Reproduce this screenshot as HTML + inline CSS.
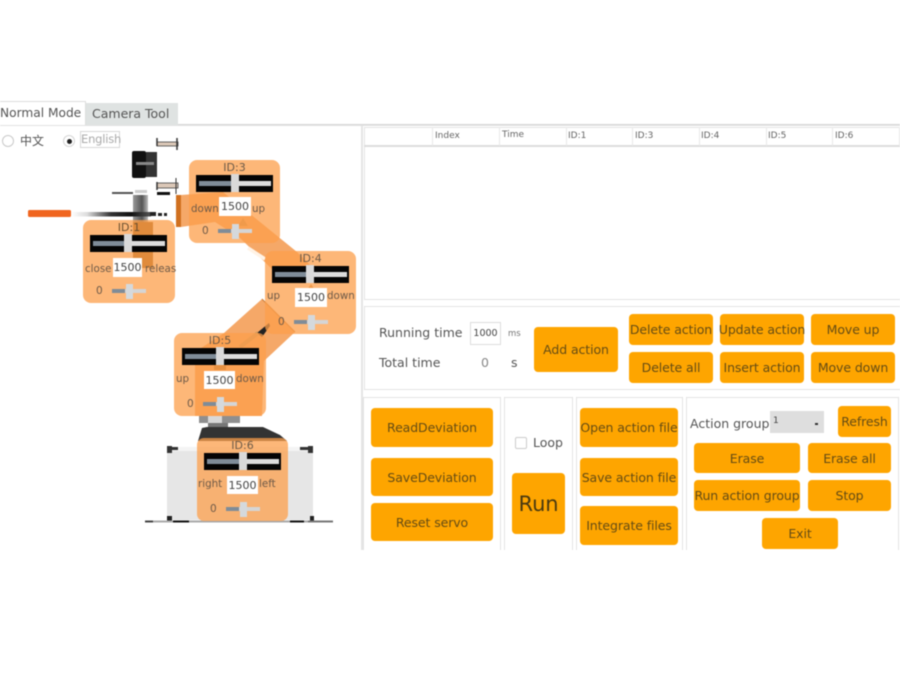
<!DOCTYPE html>
<html><head><meta charset="utf-8"><style>
html,body{margin:0;padding:0;background:#fff}
#p{position:relative;width:900px;height:675px;overflow:hidden;background:#fff;font-family:"DejaVu Sans","Noto Sans CJK SC",sans-serif;filter:blur(.5px)}
#p div,#p span.a{position:absolute;box-sizing:border-box}
.b{background:#fea500;border-radius:4px;color:#654c14;font-size:12.5px;display:flex;align-items:center;justify-content:center;white-space:nowrap;letter-spacing:-.1px}
.t{white-space:nowrap;color:#555;line-height:1}
.h{font-size:9px;color:#666;top:132px;line-height:1;white-space:nowrap}
.s{top:127px;height:19px;width:1px;background:#e9e9e9}
.pn{border:1.5px solid #e3e3e3}
.c{background:rgba(252,159,75,.75);border-radius:8px;width:91px;height:83px}
.c .ti{left:0;width:100%;top:1px;text-align:center;font-size:11px;color:#6b5a48;line-height:13px}
.c .tr{left:7px;top:15px;width:77px;height:17px;background:#050505}
.c .l1{left:3px;top:6px;width:36px;height:5px;background:#7f8c98}
.c .l2{left:39px;top:6px;width:36px;height:5px;background:#dcdcdc}
.c .hd{left:35px;top:-1px;width:8px;height:18px;background:#d9d9d9}
.c .v{left:30px;top:37px;width:32px;height:19px;background:#fff;color:#444;font-size:11px;display:flex;align-items:center;justify-content:center}
.c .lb{font-size:10.3px;color:#6e5a48;top:41px;line-height:1;white-space:nowrap}
.c .z{left:13px;top:66px;font-size:10.5px;color:#6e5a48;line-height:1}
.c .m1{left:29px;top:69px;width:13px;height:4px;background:#7f8c98}
.c .m2{left:42px;top:69px;width:21px;height:4px;background:#d5d5d5}
.c .mh{left:43px;top:64px;width:7px;height:15px;background:#d5d9dc}
</style></head><body><div id="p">

<!-- tabs -->
<div style="left:0;top:101px;width:86px;height:24px;border-top:1px solid #ddd;border-right:1px solid #ddd;background:#fff"></div>
<div class="t" style="left:0;top:107px;font-size:12.2px;color:#555">Normal Mode</div>
<div style="left:86px;top:103px;width:92px;height:22px;background:#dfe3e2"></div>
<div class="t" style="left:92px;top:108px;font-size:12.5px;color:#555">Camera Tool</div>
<div style="left:178px;top:124px;width:722px;height:2px;background:#d6d6d6"></div>
<div style="left:0;top:125px;width:900px;height:1px;background:#e2e2e2"></div>
<div style="left:361px;top:126px;width:2px;height:424px;background:#e5e5e5"></div>

<!-- language -->
<div style="left:2px;top:135px;width:12px;height:12px;border:1px solid #c9c9c9;border-radius:50%"></div>
<div class="t" style="left:20px;top:135px;font-size:12px;color:#555">中文</div>
<div style="left:63px;top:135px;width:12px;height:12px;border:1px solid #d5d5d5;border-radius:50%"></div>
<div style="left:66.5px;top:138.5px;width:5px;height:5px;background:#222;border-radius:50%"></div>
<div class="t" style="left:80px;top:131px;width:40px;height:17px;border:1px solid #d8d8d8;font-size:11.5px;color:#aaa;padding-top:2px;letter-spacing:-.2px">English</div>

<!-- robot -->
<svg style="position:absolute;left:0;top:0" width="900" height="675" viewBox="0 0 900 675">
<defs><linearGradient id="g1" x1="0" x2="1"><stop offset="0" stop-color="#fff"/><stop offset=".2" stop-color="#ddd"/><stop offset=".5" stop-color="#333"/><stop offset=".75" stop-color="#111"/><stop offset="1" stop-color="#555"/></linearGradient>
<linearGradient id="g2" x1="0" x2="1"><stop offset="0" stop-color="#999"/><stop offset=".6" stop-color="#555"/><stop offset="1" stop-color="#bbb"/></linearGradient></defs>
<!-- camera -->
<rect x="132" y="151" width="14" height="27" rx="2" fill="#111"/><rect x="146" y="152" width="11" height="25" fill="#333"/>
<rect x="136" y="162" width="18" height="3" fill="#888"/>
<rect x="157" y="142" width="21" height="4" fill="#dcc8b8" stroke="#444" stroke-width=".8"/>
<rect x="157" y="183" width="21" height="5" fill="#dcc8b8" stroke="#444" stroke-width=".8"/>
<line x1="157" y1="138" x2="157" y2="191" stroke="#333" stroke-width="1.5" stroke-dasharray="8 36"/>
<line x1="177" y1="138" x2="177" y2="150" stroke="#333" stroke-width="1.5"/>
<line x1="176" y1="178" x2="176" y2="194" stroke="#333" stroke-width="1"/>
<!-- gripper -->
<rect x="133" y="195" width="15" height="28" fill="url(#g2)"/>
<rect x="133" y="222" width="20" height="46" fill="#8a4f12"/>
<rect x="112" y="192" width="21" height="2" fill="#555"/><rect x="135" y="190" width="12" height="3" fill="#ccc"/><rect x="157" y="192" width="13" height="3" fill="#111"/>
<rect x="71" y="212" width="80" height="4.5" fill="url(#g1)"/>
<rect x="150" y="212" width="6" height="4" fill="#222"/><rect x="158" y="213" width="4" height="3" fill="#222"/><rect x="164" y="213" width="3" height="3" fill="#222"/>
<rect x="28" y="210" width="43" height="7" rx="1.5" fill="#f0651f"/>
<!-- arm links -->
<rect x="176" y="195" width="5" height="32" fill="#d0701f"/>
<polygon points="181,195 223,192 297,252 315,270 275,272 240,238 215,222 181,227" fill="#f5a868"/>
<line x1="248" y1="248" x2="265" y2="259" stroke="#fff3e6" stroke-width="3.5"/>
<polygon points="238,226 248,226 243,218" fill="#c98a4c"/>
<polygon points="306,292 316,292 311,284" fill="#c98a4c"/>
<polygon points="262,299 295,332 264,361 262,416 195,416 195,352 224,333" fill="#f5a868"/>
<line x1="262" y1="299" x2="295" y2="332" stroke="#c87a36" stroke-width="1"/>
<polygon points="257,333 269,323 270,326 262,337" fill="#222"/>
<line x1="240" y1="347" x2="258" y2="333" stroke="#c9995f" stroke-width="4"/>
<rect x="214" y="365" width="12" height="5" fill="#a8682a"/>
<!-- base -->
<rect x="167" y="449" width="146" height="71" fill="#e6e6e6"/>
<rect x="171" y="447" width="138" height="4" fill="#f4f4f4"/>
<rect x="167" y="447" width="11" height="3" fill="#333"/><rect x="300" y="447" width="13" height="3" fill="#333"/>
<rect x="167" y="446" width="5" height="7" fill="#333"/><rect x="308" y="446" width="5" height="7" fill="#333"/>
<rect x="167" y="516" width="5" height="5" fill="#222"/><rect x="310" y="516" width="4" height="5" fill="#222"/>
<rect x="145" y="520.5" width="188" height="2" fill="#aaa"/><rect x="145" y="520.5" width="8" height="2" fill="#444"/><rect x="173" y="520.5" width="16" height="2" fill="#111"/><rect x="290" y="520.5" width="14" height="2" fill="#111"/><rect x="308" y="520.5" width="25" height="2" fill="#777"/>
<polygon points="198,441 202,428 207,427 263,427 280,435 287,441" fill="#333"/>
<rect x="208" y="422" width="20" height="5" fill="#777"/>
<rect x="199" y="416" width="41" height="7" fill="#8f8f8f"/><rect x="208" y="416" width="14" height="7" fill="#d8d8d8"/>
</svg>

<!-- cards -->
<div class="c" style="left:189px;top:160px"><div class="ti">ID:3</div><div class="tr"><div class="l1"></div><div class="l2"></div><div class="hd" style="left:35px"></div></div><div class="v">1500</div><div class="lb" style="left:2px;top:44px">down</div><div class="lb" style="left:63px;top:44px">up</div><div class="z">0</div><div class="m1"></div><div class="m2"></div><div class="mh"></div></div>

<div class="c" style="left:83px;top:220px;width:92px"><div class="ti" style="color:#6a5030">ID:1</div><div class="tr"><div class="l1"></div><div class="l2"></div><div class="hd" style="left:34px"></div></div><div class="v" style="top:38px;width:29px">1500</div><div class="lb" style="left:2px;top:44px">close</div><div class="lb" style="left:62px;top:44px">releas</div><div class="z">0</div><div class="m1"></div><div class="m2"></div><div class="mh"></div></div>

<div class="c" style="left:265px;top:251px"><div class="ti">ID:4</div><div class="tr"><div class="l1"></div><div class="l2"></div><div class="hd" style="left:34px"></div></div><div class="v">1500</div><div class="lb" style="left:2px;top:40px">up</div><div class="lb" style="left:62px;top:40px">down</div><div class="z">0</div><div class="m1"></div><div class="m2"></div><div class="mh"></div></div>

<div class="c" style="left:174px;top:333px;width:92px"><div class="ti">ID:5</div><div class="tr" style="left:8px"><div class="l1"></div><div class="l2"></div><div class="hd" style="left:34px"></div></div><div class="v" style="top:38px;width:31px;height:18px">1500</div><div class="lb" style="left:2px;top:41px">up</div><div class="lb" style="left:62px;top:41px">down</div><div class="z">0</div><div class="m1"></div><div class="m2"></div><div class="mh"></div></div>

<div class="c" style="left:197px;top:438px;border-radius:7px"><div class="ti">ID:6</div><div class="tr"><div class="l1"></div><div class="l2"></div><div class="hd"></div></div><div class="v" style="top:38px;width:31px;height:18px">1500</div><div class="lb" style="left:1px;top:41px">right</div><div class="lb" style="left:62px;top:41px">left</div><div class="z">0</div><div class="m1"></div><div class="m2"></div><div class="mh"></div></div>

<!-- table -->
<div style="left:364px;top:127px;width:536px;height:173px;border:1px solid #e4e4e4;border-right:0"></div>
<div style="left:364px;top:145px;width:536px;height:2px;background:#dcdcdc"></div>
<div class="s" style="left:432px"></div><div class="s" style="left:499px"></div><div class="s" style="left:566px"></div><div class="s" style="left:632px"></div><div class="s" style="left:699px"></div><div class="s" style="left:766px"></div><div class="s" style="left:832px"></div><div class="s" style="left:899px"></div>
<div class="h" style="left:435px">Index</div><div class="h" style="left:502px;top:131px">Time</div><div class="h" style="left:568px">ID:1</div><div class="h" style="left:635px">ID:3</div><div class="h" style="left:701px">ID:4</div><div class="h" style="left:768px">ID:5</div><div class="h" style="left:835px">ID:6</div>

<!-- middle panel -->
<div class="pn" style="left:364px;top:306px;width:538px;height:84px"></div>
<div class="t" style="left:379px;top:327px;font-size:12.5px">Running time</div>
<div class="t" style="left:470px;top:322px;width:31px;height:23px;border:1px solid #ddd;font-size:9.5px;text-align:center;line-height:22px;color:#444">1000</div>
<div class="t" style="left:508px;top:330px;font-size:8.5px;color:#777">ms</div>
<div class="t" style="left:379px;top:357px;font-size:12.5px">Total time</div>
<div class="t" style="left:481px;top:357px;font-size:12.5px;color:#888">0</div>
<div class="t" style="left:511px;top:357px;font-size:12.5px">s</div>
<div class="b" style="left:534px;top:327px;width:84px;height:45px">Add action</div>
<div class="b" style="left:629px;top:314px;width:84px;height:31px">Delete action</div>
<div class="b" style="left:720px;top:314px;width:84px;height:31px">Update action</div>
<div class="b" style="left:811px;top:314px;width:84px;height:31px">Move up</div>
<div class="b" style="left:629px;top:352px;width:84px;height:31px">Delete all</div>
<div class="b" style="left:720px;top:352px;width:84px;height:31px">Insert action</div>
<div class="b" style="left:811px;top:352px;width:84px;height:31px">Move down</div>

<!-- bottom panels -->
<div class="pn" style="left:363px;top:397px;width:138px;height:170px"></div>
<div class="pn" style="left:504px;top:397px;width:69px;height:170px"></div>
<div class="pn" style="left:576px;top:397px;width:107px;height:170px"></div>
<div class="pn" style="left:686px;top:397px;width:213px;height:170px"></div>
<div class="b" style="left:371px;top:408px;width:122px;height:39px">ReadDeviation</div>
<div class="b" style="left:371px;top:458px;width:122px;height:38px">SaveDeviation</div>
<div class="b" style="left:371px;top:503px;width:122px;height:38px">Reset servo</div>
<div style="left:515px;top:437px;width:12px;height:12px;border:1px solid #ccc;border-radius:2px"></div>
<div class="t" style="left:533px;top:437px;font-size:12.5px">Loop</div>
<div class="b" style="left:512px;top:473px;width:53px;height:61px;font-size:21px;color:#4a3a10">Run</div>
<div class="b" style="left:580px;top:408px;width:98px;height:39px">Open action file</div>
<div class="b" style="left:580px;top:458px;width:98px;height:38px">Save action file</div>
<div class="b" style="left:580px;top:506px;width:98px;height:39px">Integrate files</div>
<div class="t" style="left:690px;top:418px;font-size:12.5px">Action group</div>
<div style="left:770px;top:411px;width:54px;height:22px;background:#dedede"></div>
<div class="t" style="left:773px;top:417px;font-size:9px;color:#444">1</div>
<div style="left:815px;top:423px;width:3px;height:2px;background:#333"></div>
<div class="b" style="left:838px;top:406px;width:53px;height:31px">Refresh</div>
<div class="b" style="left:694px;top:443px;width:106px;height:30px">Erase</div>
<div class="b" style="left:808px;top:443px;width:83px;height:30px">Erase all</div>
<div class="b" style="left:694px;top:480px;width:106px;height:31px">Run action group</div>
<div class="b" style="left:808px;top:480px;width:83px;height:31px">Stop</div>
<div class="b" style="left:762px;top:518px;width:76px;height:31px">Exit</div>

<!-- white cover below the screenshot -->
<div style="left:0;top:550px;width:900px;height:125px;background:#fff"></div>
</div></body></html>
